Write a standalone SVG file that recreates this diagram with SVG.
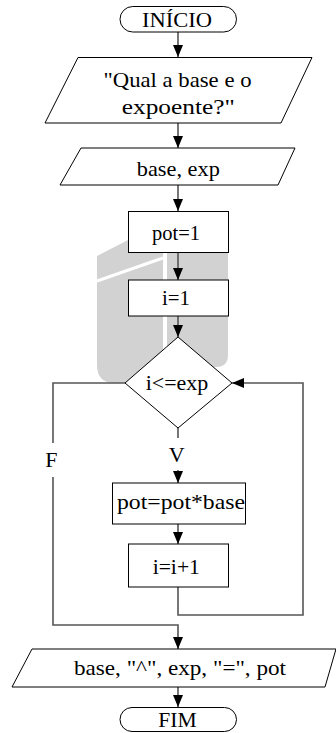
<svg xmlns="http://www.w3.org/2000/svg" width="336" height="733" viewBox="0 0 336 733">
<style>
.sh{fill:#fff;stroke:#000;stroke-width:1}
.c{fill:none;stroke:#555;stroke-width:1.6}
.wm{fill:#d2d2d2}
text{font-family:"Times New Roman","Liberation Serif","Noto Serif","DejaVu Serif",Times,serif;font-size:22px;text-anchor:middle;fill:#000}
</style>
<defs>
<marker id="ah" markerUnits="userSpaceOnUse" viewBox="0 0 10 12" refX="5" refY="12" markerWidth="10" markerHeight="12" orient="0">
<path d="M0,0 L10,0 L5,12 Z" fill="#000"/>
</marker>
<marker id="ahl" markerUnits="userSpaceOnUse" viewBox="0 0 12 10" refX="0" refY="5" markerWidth="12" markerHeight="10" orient="0">
<path d="M12,0 L12,10 L0,5 Z" fill="#000"/>
</marker>
</defs>
<rect width="336" height="733" fill="#fff"/>
<g id="watermark">
<path class="wm" d="M97,256 L163,222 L163,383 L115,383 Q97,383 97,365 Z"/>
<path class="wm" d="M167,240 L228,240 L228,355 Q228,367 216,367 L167,367 Z"/>
<path d="M97,281 L163,258" stroke="#fff" stroke-width="3" fill="none"/>
</g>
<g id="connectors">
<path class="c" d="M178,32 V57" marker-end="url(#ah)"/>
<path class="c" d="M178,123 V148" marker-end="url(#ah)"/>
<path class="c" d="M178,185 V211" marker-end="url(#ah)"/>
<path class="c" d="M178,253 V280" marker-end="url(#ah)"/>
<path class="c" d="M178,316 V337" marker-end="url(#ah)"/>
<path class="c" d="M178,428 V438"/>
<path class="c" d="M178,470 V483" marker-end="url(#ah)"/>
<path class="c" d="M178,524 V544" marker-end="url(#ah)"/>
<path class="c" d="M178,587 V615 H303 V383 H232" marker-end="url(#ahl)"/>
<path class="c" d="M125,383 H53 V443"/>
<path class="c" d="M53,477 V625 H178 V649" marker-end="url(#ah)"/>
<path class="c" d="M178,687 V707" marker-end="url(#ah)"/>
</g>
<g id="inicio">
<rect class="sh" x="120" y="6.5" width="116.5" height="25.5" rx="12.75"/>
<text x="177" y="27" textLength="70" lengthAdjust="spacingAndGlyphs">INÍCIO</text>
</g>
<g id="pergunta">
<polygon class="sh" points="78,57.5 312,57.5 281,123 45,123"/>
<text x="177.5" y="86.5" textLength="148" lengthAdjust="spacingAndGlyphs">"Qual a base e o</text>
<text x="178.3" y="114" textLength="113" lengthAdjust="spacingAndGlyphs">expoente?"</text>
</g>
<g id="leitura">
<polygon class="sh" points="81,148 295,148 278,185 60,185"/>
<text x="178.3" y="175.5" textLength="83" lengthAdjust="spacingAndGlyphs">base, exp</text>
</g>
<g id="pot1">
<rect class="sh" x="128.5" y="211.5" width="100" height="41"/>
<text x="176" y="240" textLength="48" lengthAdjust="spacingAndGlyphs">pot=1</text>
</g>
<g id="i1">
<rect class="sh" x="128.5" y="280" width="100" height="36"/>
<text x="176" y="304.5" textLength="28" lengthAdjust="spacingAndGlyphs">i=1</text>
</g>
<g id="decisao">
<polygon class="sh" points="178,337 232,383 178,428 125,383"/>
<text x="177" y="390" textLength="62.5" lengthAdjust="spacingAndGlyphs">i&lt;=exp</text>
</g>
<g id="labels">
<text x="176.7" y="461.7">V</text>
<text x="51.3" y="467.3">F</text>
</g>
<g id="potmul">
<rect class="sh" x="112.5" y="483" width="133" height="41"/>
<text x="181" y="509" textLength="128" lengthAdjust="spacingAndGlyphs">pot=pot*base</text>
</g>
<g id="incr">
<rect class="sh" x="128.5" y="544" width="100" height="43"/>
<text x="176.3" y="574" textLength="47.3" lengthAdjust="spacingAndGlyphs">i=i+1</text>
</g>
<g id="saida">
<polygon class="sh" points="32,649 336,649 325,687 12,687"/>
<text x="180" y="675" textLength="212" lengthAdjust="spacingAndGlyphs">base, "^", exp, "=", pot</text>
</g>
<g id="fim">
<rect class="sh" x="120" y="707.5" width="116.5" height="24" rx="12"/>
<text x="177.5" y="726.7" textLength="38.4" lengthAdjust="spacingAndGlyphs">FIM</text>
</g>
</svg>
